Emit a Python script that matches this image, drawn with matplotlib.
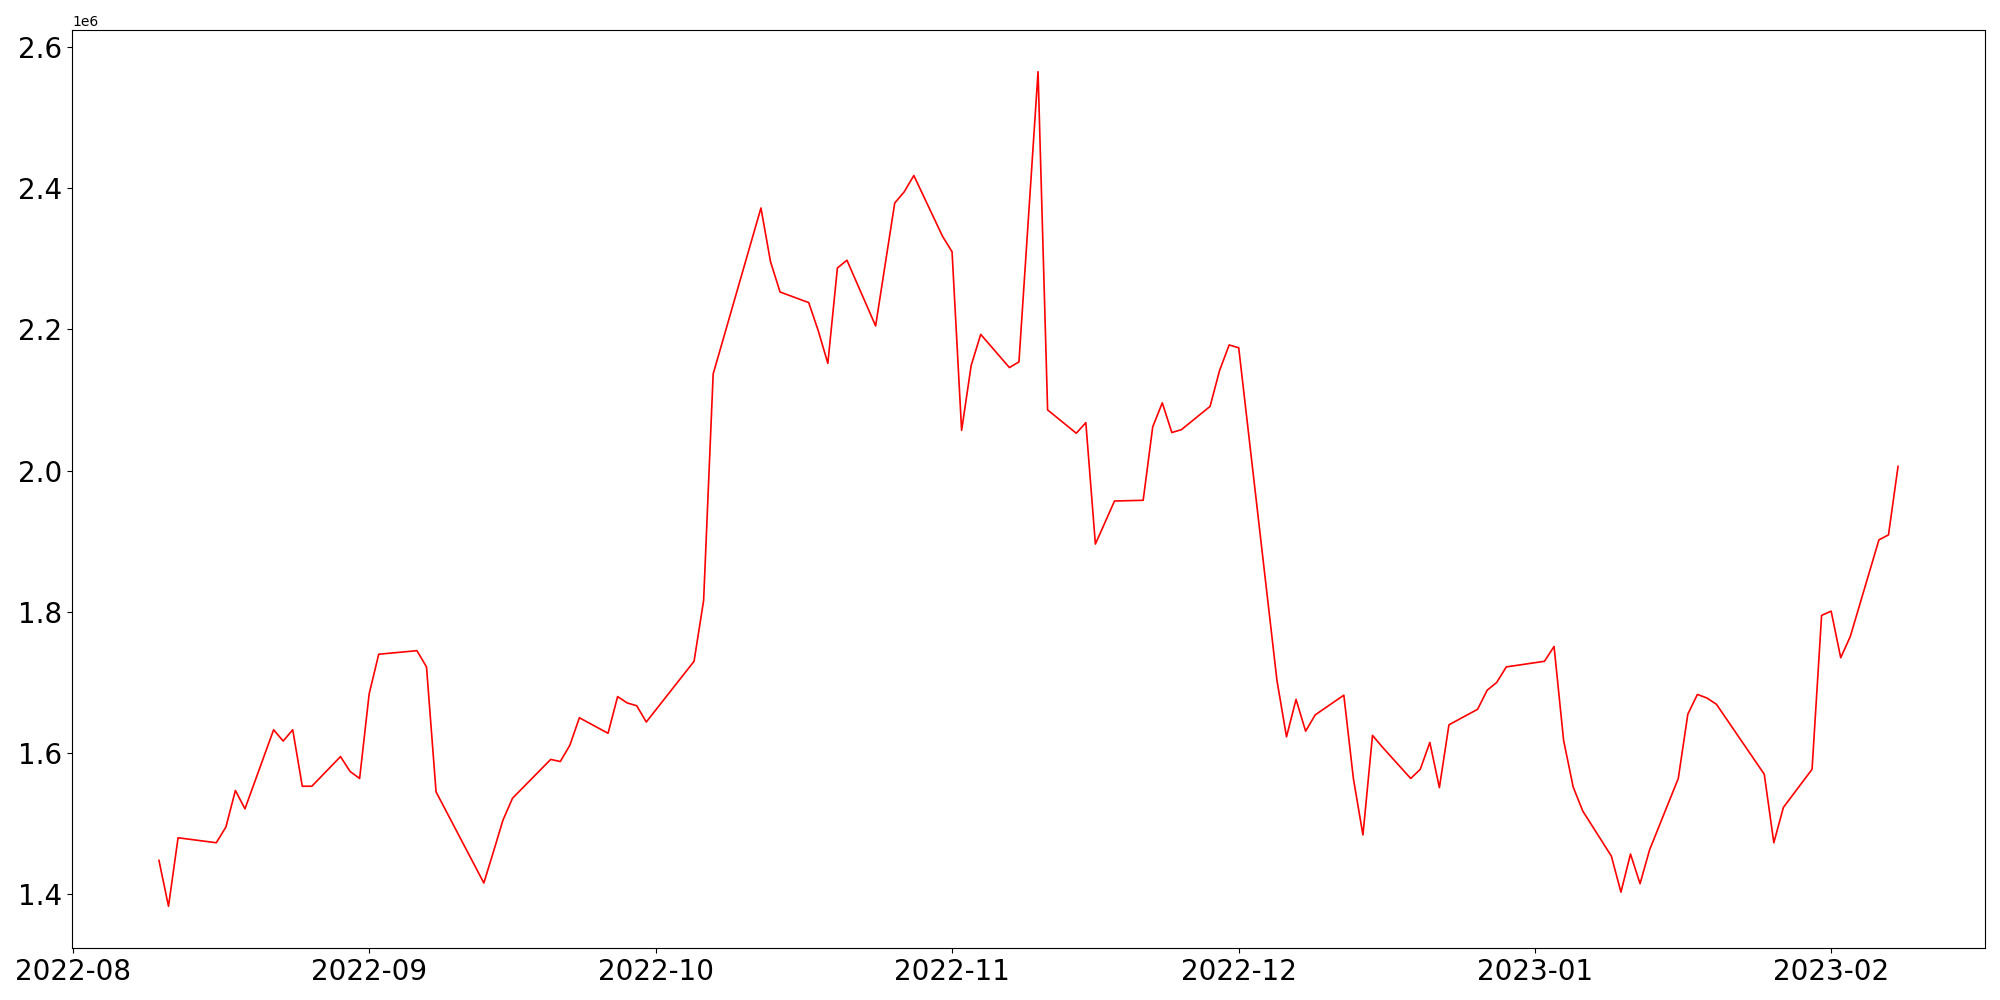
import pandas as pd
import matplotlib
matplotlib.use("Agg")
import matplotlib.pyplot as plt

# trading days and values
dates = [
    "2022-08-10", "2022-08-11", "2022-08-12", "2022-08-16", "2022-08-17",
    "2022-08-18", "2022-08-19", "2022-08-22", "2022-08-23", "2022-08-24",
    "2022-08-25", "2022-08-26", "2022-08-29", "2022-08-30", "2022-08-31",
    "2022-09-01", "2022-09-02", "2022-09-06", "2022-09-07", "2022-09-08",
    "2022-09-13", "2022-09-14", "2022-09-15", "2022-09-16", "2022-09-20",
    "2022-09-21", "2022-09-22", "2022-09-23", "2022-09-26", "2022-09-27",
    "2022-09-28", "2022-09-29", "2022-09-30", "2022-10-05", "2022-10-06",
    "2022-10-07", "2022-10-12", "2022-10-13", "2022-10-14", "2022-10-17",
    "2022-10-18", "2022-10-19", "2022-10-20", "2022-10-21", "2022-10-24",
    "2022-10-26", "2022-10-27", "2022-10-28", "2022-10-31", "2022-11-01",
    "2022-11-02", "2022-11-03", "2022-11-04", "2022-11-07", "2022-11-08",
    "2022-11-10", "2022-11-11", "2022-11-14", "2022-11-15", "2022-11-16",
    "2022-11-18", "2022-11-21", "2022-11-22", "2022-11-23", "2022-11-24",
    "2022-11-25", "2022-11-28", "2022-11-29", "2022-11-30", "2022-12-01",
    "2022-12-05", "2022-12-06", "2022-12-07", "2022-12-08", "2022-12-09",
    "2022-12-12", "2022-12-13", "2022-12-14", "2022-12-15", "2022-12-16",
    "2022-12-19", "2022-12-20", "2022-12-21", "2022-12-22", "2022-12-23",
    "2022-12-26", "2022-12-27", "2022-12-28", "2022-12-29", "2023-01-02",
    "2023-01-03", "2023-01-04", "2023-01-05", "2023-01-06", "2023-01-09",
    "2023-01-10", "2023-01-11", "2023-01-12", "2023-01-13", "2023-01-16",
    "2023-01-17", "2023-01-18", "2023-01-19", "2023-01-20", "2023-01-25",
    "2023-01-26", "2023-01-27", "2023-01-30", "2023-01-31", "2023-02-01",
    "2023-02-02", "2023-02-03", "2023-02-06", "2023-02-07", "2023-02-08",
]
values = [
    1.448, 1.383, 1.480, 1.473, 1.495,
    1.547, 1.521, 1.633, 1.617, 1.633,
    1.553, 1.553, 1.595, 1.574, 1.564,
    1.684, 1.740, 1.745, 1.722, 1.545,
    1.416, 1.460, 1.505, 1.536, 1.591,
    1.588, 1.611, 1.650, 1.628, 1.680,
    1.671, 1.667, 1.644, 1.730, 1.816,
    2.137, 2.372, 2.296, 2.253, 2.238,
    2.198, 2.152, 2.287, 2.298, 2.205,
    2.379, 2.395, 2.418, 2.332, 2.310,
    2.057, 2.149, 2.193, 2.146, 2.154,
    2.565, 2.086, 2.053, 2.068, 1.896,
    1.957, 1.958, 2.062, 2.096, 2.054,
    2.058, 2.091, 2.142, 2.178, 2.174,
    1.703, 1.623, 1.676, 1.631, 1.654,
    1.682, 1.564, 1.484, 1.625, 1.609,
    1.564, 1.577, 1.615, 1.551, 1.640,
    1.662, 1.689, 1.700, 1.722, 1.730,
    1.751, 1.618, 1.552, 1.518, 1.454,
    1.403, 1.457, 1.415, 1.463, 1.564,
    1.655, 1.683, 1.678, 1.669, 1.570,
    1.473, 1.523, 1.577, 1.795, 1.801,
    1.735, 1.765, 1.902, 1.909, 2.006,
]

x = pd.to_datetime(dates)
y = [v * 1e6 for v in values]

fig = plt.figure(figsize=(20, 10), dpi=100)
ax = fig.add_axes([0.036, 0.052, 0.9565, 0.918])
ax.plot(x, y, color="red", linewidth=1.2)
ax.tick_params(labelsize=20)

fig.savefig("out.png", dpi=100)
